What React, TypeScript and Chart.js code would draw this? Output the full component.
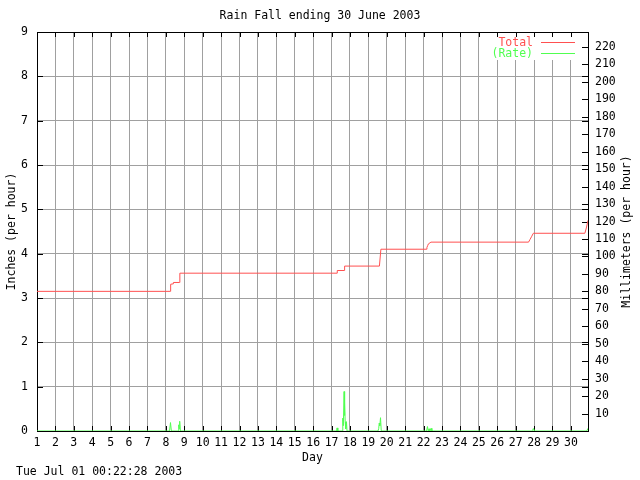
import React, { useEffect, useRef } from "react";
import { Chart, registerables } from "chart.js";

Chart.register(...registerables);

const TITLE = "Rain Fall ending 30 June 2003";
const TIMESTAMP = "Tue Jul 01 00:22:28 2003";
const X_TITLE = "Day";
const Y_TITLE = "Inches (per hour)";
const Y2_TITLE = "Millimeters (per hour)";

const dayTicks = [1, 2, 3, 4, 5, 6, 7, 8, 9, 10, 11, 12, 13, 14, 15, 16, 17, 18, 19, 20, 21, 22, 23, 24, 25, 26, 27, 28, 29, 30];
const inchTicks = [0, 1, 2, 3, 4, 5, 6, 7, 8, 9];
const mmTicks = [10, 20, 30, 40, 50, 60, 70, 80, 90, 100, 110, 120, 130, 140, 150, 160, 170, 180, 190, 200, 210, 220];

const totalDays = [1, 8.24, 8.26, 8.40, 8.41, 8.73, 8.76, 17.30, 17.31, 17.70, 17.71, 19.60, 19.68, 22.14, 22.18, 22.22, 22.26, 22.40, 27.70, 27.78, 27.86, 27.96, 30.76, 30.84, 30.93];
const totalInches = [3.15, 3.15, 3.31, 3.32, 3.35, 3.35, 3.56, 3.56, 3.62, 3.62, 3.72, 3.72, 4.10, 4.10, 4.14, 4.18, 4.22, 4.26, 4.26, 4.32, 4.38, 4.46, 4.46, 4.58, 4.75];

const rateDays = [1, 8.20, 8.25, 8.30, 8.66, 8.70, 8.72, 8.75, 8.79, 17.27, 17.30, 17.34, 17.58, 17.61, 17.64, 17.68, 17.70, 17.72, 17.74, 17.77, 17.81, 17.84, 19.52, 19.56, 19.59, 19.62, 19.66, 19.70, 22.16, 22.21, 22.25, 22.30, 22.34, 22.41, 22.45, 27.90, 27.94, 27.98, 28.02, 30.86, 30.93];
const rateInches = [0, 0, 0.19, 0, 0, 0.14, 0.05, 0.22, 0, 0, 0.07, 0, 0, 0.29, 0.12, 0.89, 0.35, 0.64, 0.21, 0.05, 0.21, 0, 0, 0.05, 0.18, 0.12, 0.30, 0, 0, 0.10, 0, 0.05, 0, 0.06, 0, 0, 0.05, 0.05, 0, 0, 0.06];

const RED = "#ff5050";
const GREEN = "#50ff50";
const GRID = "#a0a0a0";
const FONT_FAMILY = "'DejaVu Sans Mono', monospace";
const FONT_SIZE = 11.5;

const overlayPlugin = {
  id: "overlay",
  beforeDatasetsDraw(chart: any) {
    const { ctx, chartArea, scales } = chart;
    const { left, right, top, bottom } = chartArea;
    ctx.save();
    // legend background box (hides grid)
    ctx.fillStyle = "#fff";
    ctx.fillRect(490, top + 1, right - 490 - 1, 59 - top);
    // border
    ctx.strokeStyle = "#000";
    ctx.lineWidth = 1;
    ctx.strokeRect(Math.round(left) + 0.5, Math.round(top) + 0.5, Math.round(right - left), Math.round(bottom - top));
    // inward ticks
    ctx.beginPath();
    for (const d of dayTicks) {
      const px = Math.round(scales.x.getPixelForValue(d)) + 0.5;
      ctx.moveTo(px, bottom);
      ctx.lineTo(px, bottom - 5);
      ctx.moveTo(px, top);
      ctx.lineTo(px, top + 5);
    }
    for (const v of inchTicks) {
      const py = Math.round(scales.y.getPixelForValue(v)) + 0.5;
      ctx.moveTo(left, py);
      ctx.lineTo(left + 6, py);
      ctx.moveTo(right, py);
      ctx.lineTo(right - 6, py);
    }
    for (const v of mmTicks) {
      const py = Math.round(scales.y2.getPixelForValue(v)) + 0.5;
      ctx.moveTo(right, py);
      ctx.lineTo(right - 6, py);
    }
    ctx.stroke();
    ctx.restore();
  },
  afterDraw(chart: any) {
    const { ctx, chartArea } = chart;
    const { top, bottom } = chartArea;
    ctx.save();
    ctx.font = `${FONT_SIZE}px ${FONT_FAMILY}`;
    // legend
    const ds = chart.data.datasets;
    ds.forEach((d: any, i: number) => {
      const y = 42 + i * 11;
      ctx.fillStyle = d.borderColor;
      ctx.textAlign = "right";
      ctx.textBaseline = "middle";
      ctx.fillText(d.label, 533, y + 1);
      ctx.strokeStyle = d.borderColor;
      ctx.lineWidth = 1;
      ctx.beginPath();
      ctx.moveTo(541, y + 0.5);
      ctx.lineTo(575, y + 0.5);
      ctx.stroke();
    });
    // right axis title
    ctx.fillStyle = "#000";
    ctx.save();
    ctx.translate(627, (top + bottom) / 2);
    ctx.rotate(-Math.PI / 2);
    ctx.textAlign = "center";
    ctx.textBaseline = "middle";
    ctx.fillText(Y2_TITLE, 0, 0);
    ctx.restore();
    // timestamp
    ctx.textAlign = "left";
    ctx.textBaseline = "middle";
    ctx.fillText(TIMESTAMP, 16, 472);
    ctx.restore();
  },
};

export default function App() {
  const ref = useRef<HTMLCanvasElement>(null);
  useEffect(() => {
    document.body.style.margin = "0";
    const font = { family: FONT_FAMILY, size: FONT_SIZE, weight: "normal" as const };
    const chart = new Chart(ref.current!, {
      type: "line",
      data: {
        datasets: [
          {
            label: "Total",
            data: totalDays.map((d, i) => ({ x: d, y: totalInches[i] })),
            borderColor: RED,
            backgroundColor: RED,
            borderWidth: 1,
            pointRadius: 0,
            yAxisID: "y",
          },
          {
            label: "(Rate)",
            data: rateDays.map((d, i) => ({ x: d, y: rateInches[i] })),
            borderColor: GREEN,
            backgroundColor: GREEN,
            borderWidth: 1,
            pointRadius: 0,
            yAxisID: "y",
          },
        ],
      },
      options: {
        animation: false,
        responsive: false,
        maintainAspectRatio: false,
        layout: { padding: 0 },
        plugins: {
          legend: { display: false },
          tooltip: { enabled: false },
          title: {
            display: true,
            text: TITLE,
            color: "#000",
            font,
            padding: { top: 9, bottom: 9.2 },
          },
        },
        scales: {
          x: {
            type: "linear",
            min: 1,
            max: 30.93,
            afterBuildTicks: (s: any) => {
              s.ticks = dayTicks.map((v) => ({ value: v }));
            },
            afterFit: (s: any) => {
              s.height = 49;
            },
            grid: { color: GRID, drawTicks: false },
            border: { color: "#000" },
            ticks: { color: "#000", font, padding: 5, maxRotation: 0, autoSkip: false },
            title: { display: true, text: X_TITLE, color: "#000", font, padding: { top: 0, bottom: 15 } },
          },
          y: {
            type: "linear",
            position: "left",
            min: 0,
            max: 9,
            afterBuildTicks: (s: any) => {
              s.ticks = inchTicks.map((v) => ({ value: v }));
            },
            afterFit: (s: any) => {
              s.width = 37;
            },
            grid: { color: GRID, drawTicks: false },
            border: { color: "#000" },
            ticks: { color: "#000", font, padding: 9 },
            title: { display: true, text: Y_TITLE, color: "#000", font, padding: { top: 5, bottom: 0 } },
          },
          y2: {
            type: "linear",
            position: "right",
            min: 0,
            max: 228.6,
            afterBuildTicks: (s: any) => {
              s.ticks = mmTicks.map((v) => ({ value: v }));
            },
            afterFit: (s: any) => {
              s.width = 52;
            },
            grid: { drawOnChartArea: false, drawTicks: false },
            border: { color: "#000" },
            ticks: { color: "#000", font, padding: 7 },
          },
        },
      },
      plugins: [overlayPlugin],
    });
    return () => chart.destroy();
  }, []);
  return (
    <div style={{ width: 640, height: 480, background: "#fff" }}>
      <canvas ref={ref} width={640} height={480} style={{ display: "block" }} />
    </div>
  );
}
